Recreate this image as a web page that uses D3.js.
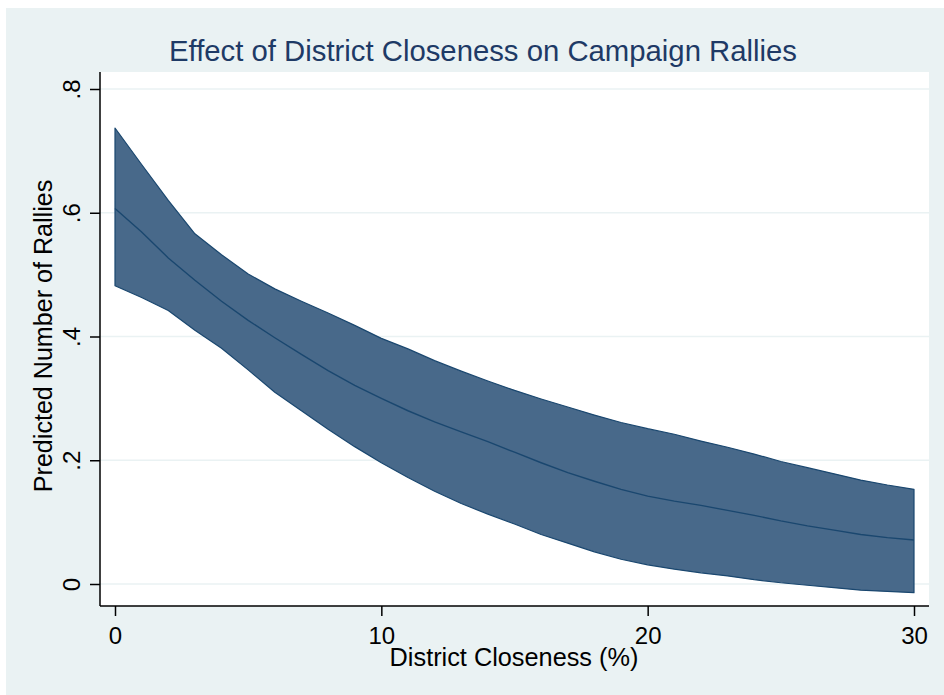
<!DOCTYPE html>
<html>
<head>
<meta charset="utf-8">
<script src="https://cdn.jsdelivr.net/npm/d3@7"></script>
<style>
html,body{margin:0;padding:0;background:#ffffff;}
svg{display:block;}
text{font-family:"Liberation Sans",Arial,sans-serif;}
</style>
</head>
<body>
<script>
// ---- data ----
const closeness = [0,1,2,3,4,5,6,7,8,9,10,11,12,13,14,15,16,17,18,19,20,21,22,23,24,25,26,27,28,29,30];
const predicted = [0.607,0.569,0.527,0.491,0.457,0.426,0.398,0.371,0.345,0.321,0.300,0.280,0.262,0.246,0.230,0.213,0.196,0.180,0.166,0.153,0.142,0.134,0.127,0.119,0.111,0.102,0.094,0.087,0.080,0.075,0.071];
const upperCI = [0.737,0.678,0.620,0.566,0.532,0.501,0.477,0.457,0.438,0.418,0.397,0.380,0.361,0.344,0.328,0.313,0.299,0.286,0.273,0.261,0.251,0.242,0.231,0.221,0.210,0.198,0.188,0.178,0.168,0.160,0.153];
const lowerCI = [0.482,0.463,0.442,0.410,0.381,0.346,0.310,0.280,0.250,0.222,0.196,0.172,0.150,0.130,0.113,0.097,0.080,0.066,0.052,0.040,0.031,0.024,0.018,0.013,0.007,0.002,-0.002,-0.006,-0.010,-0.012,-0.014];
const xTicks = [0,10,20,30];
const yTicks = [0,0.2,0.4,0.6,0.8];
const yTickLabels = ["0",".2",".4",".6",".8"];
const titleText = "Effect of District Closeness on Campaign Rallies";
const xTitle = "District Closeness (%)";
const yTitle = "Predicted Number of Rallies";

// ---- layout ----
const W = 944, H = 695;
const plot = {left:100, right:929, top:72, bottom:606};
const navy = "#1a476f";

const svg = d3.select("body").append("svg").attr("width",W).attr("height",H);
svg.append("rect").attr("x",6).attr("y",8).attr("width",W-6).attr("height",H-8).attr("fill","#eaf2f3");
svg.append("rect").attr("x",plot.left).attr("y",plot.top)
  .attr("width",plot.right-plot.left).attr("height",plot.bottom-plot.top).attr("fill","#ffffff");

const x = d3.scaleLinear().domain([0,30]).range([115,914]);
const y = d3.scaleLinear().domain([0,0.8]).range([584,89]);

// gridlines
svg.append("g").selectAll("line").data(yTicks).join("line")
  .attr("x1",plot.left).attr("x2",plot.right)
  .attr("y1",d=>y(d)).attr("y2",d=>y(d))
  .attr("stroke","#eaf2f3").attr("stroke-width",1.5);

const rows = closeness.map((c,i)=>({x:c,m:predicted[i],lo:lowerCI[i],hi:upperCI[i]}));

// CI band
svg.append("path").datum(rows)
  .attr("d", d3.area().x(d=>x(d.x)).y0(d=>y(d.lo)).y1(d=>y(d.hi)))
  .attr("fill","#48698a").attr("stroke",navy).attr("stroke-width",1.2).attr("stroke-linejoin","round");

// predicted line
svg.append("path").datum(rows)
  .attr("d", d3.line().x(d=>x(d.x)).y(d=>y(d.m)))
  .attr("fill","none").attr("stroke",navy).attr("stroke-width",1.4);

// y axis
const yAxis = d3.axisLeft(y).tickValues(yTicks).tickSize(10).tickFormat((d,i)=>yTickLabels[i]);
const gy = svg.append("g").attr("transform",`translate(${plot.left},0)`).call(yAxis);
gy.select(".domain").attr("d",`M0,${plot.top}V${plot.bottom}`).attr("stroke","#000").attr("stroke-width",1.5);
gy.selectAll(".tick line").attr("stroke","#000").attr("stroke-width",1.5);
gy.selectAll(".tick text")
  .attr("font-size",24).attr("fill","#000")
  .attr("x",0).attr("dy",0).attr("text-anchor","middle")
  .attr("transform","translate(-20,0) rotate(-90)");

// x axis
const xAxis = d3.axisBottom(x).tickValues(xTicks).tickSize(10).tickFormat(d3.format("d"));
const gx = svg.append("g").attr("transform",`translate(0,${plot.bottom})`).call(xAxis);
gx.select(".domain").attr("d",`M${plot.left},0H${plot.right}`).attr("stroke","#000").attr("stroke-width",1.5);
gx.selectAll(".tick line").attr("stroke","#000").attr("stroke-width",1.5);
gx.selectAll(".tick text").attr("font-size",24).attr("fill","#000").attr("y",38).attr("dy",0);

// titles
svg.append("text").attr("x",483).attr("y",61).attr("text-anchor","middle")
  .attr("font-size",29.3).attr("fill","#1e3a66").text(titleText);
svg.append("text").attr("x",514).attr("y",666).attr("text-anchor","middle")
  .attr("font-size",25.3).attr("fill","#000").text(xTitle);
svg.append("text").attr("transform",`translate(52,${(plot.top+plot.bottom)/2 - 3}) rotate(-90)`)
  .attr("text-anchor","middle").attr("font-size",25.1).attr("fill","#000").text(yTitle);
</script>
</body>
</html>
